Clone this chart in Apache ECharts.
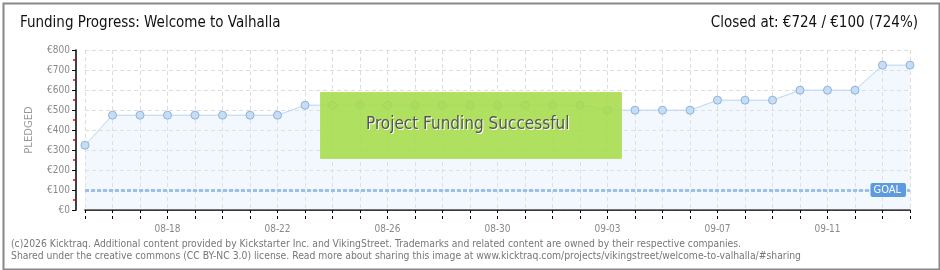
<!DOCTYPE html>
<html><head><meta charset="utf-8">
<script src="https://cdn.jsdelivr.net/npm/echarts@6/dist/echarts.min.js"></script>
<style>html,body{margin:0;padding:0;background:#fff}#c{width:940px;height:270px}</style>
</head><body><div id="c"></div>
<script>
var categories = ['08-15','08-16','08-17','08-18','08-19','08-20','08-21','08-22','08-23','08-24','08-25','08-26','08-27','08-28','08-29','08-30','08-31','09-01','09-02','09-03','09-04','09-05','09-06','09-07','09-08','09-09','09-10','09-11','09-12','09-13','09-14'];
var pledged = [324,474,474,474,474,474,474,474,524,524,524,524,524,524,524,524,524,524,524,499,499,499,499,549,549,549,599,599,599,724,724];
var goal = 100;
var yTicks = [0,100,200,300,400,500,600,700,800];
var titleText = 'Funding Progress: Welcome to Valhalla';
var closedText = 'Closed at: €724 / €100 (724%)';
var bannerText = 'Project Funding Successful';
var footer1 = '(c)2026 Kicktraq. Additional content provided by Kickstarter Inc. and VikingStreet. Trademarks and related content are owned by their respective companies.';
var footer2 = 'Shared under the creative commons (CC BY-NC 3.0) license. Read more about sharing this image at www.kicktraq.com/projects/vikingstreet/welcome-to-valhalla/#sharing';

var chart = echarts.init(document.getElementById('c'), null, {renderer:'canvas'});
var tf = '"DejaVu Sans Condensed","DejaVu Sans",sans-serif';
var labelInterval = function(i){ return i % 4 === 3; };
chart.setOption({
  animation:false,
  backgroundColor:'#fff',
  grid:{left:85,right:30,top:50,bottom:60},
  xAxis:[{
    type:'category', data:categories, boundaryGap:false, offset:9,
    axisLine:{lineStyle:{color:'#000',width:1.5}},
    axisTick:{show:true,interval:0,length:3,lineStyle:{color:'#000',width:1}},
    axisLabel:{interval:labelInterval,color:'#888',fontSize:10,fontFamily:tf,margin:5},
    splitLine:{show:true,interval:0,lineStyle:{color:'#ddd',type:[4,3]}}
  },{
    type:'category', data:categories, boundaryGap:false, offset:9, position:'bottom',
    axisLine:{show:false},
    axisTick:{show:true,inside:true,interval:0,length:3,lineStyle:{color:'#000',width:1}},
    axisLabel:{show:false}, splitLine:{show:false}
  }],
  yAxis:{
    type:'value', min:yTicks[0], max:yTicks[yTicks.length-1], interval:100, offset:9,
    name:'PLEDGED', nameLocation:'middle', nameGap:42, nameRotate:90,
    nameTextStyle:{color:'#999',fontSize:10,fontFamily:'"DejaVu Sans",sans-serif'},
    axisLine:{show:true,lineStyle:{color:'#000',width:1.5}},
    axisTick:{show:true,length:4,lineStyle:{color:'#000'}},
    minorTick:{show:true,splitNumber:2,length:3,lineStyle:{color:'#e00',width:1.5}},
    axisLabel:{color:'#888',fontSize:10,fontFamily:tf,margin:6,formatter:function(v){return '€'+v;}},
    splitLine:{show:true,lineStyle:{color:'#ddd',type:[4,3]}}
  },
  series:[{
    type:'line', data:pledged, symbol:'circle', symbolSize:8,
    lineStyle:{color:'#b9d5f2',width:1},
    itemStyle:{color:'#c6ddf6',borderColor:'#8fb2da',borderWidth:1},
    areaStyle:{color:'rgba(215,232,250,0.45)'},
    markLine:{
      silent:true, symbol:['none','none'],
      lineStyle:{color:'#9fc0e6',width:3,type:[4,2]},
      label:{show:true,position:'insideEnd',formatter:'GOAL',color:'#fff',backgroundColor:'#5b9bde',
        fontSize:11,fontFamily:tf,padding:[2,5,1,3],borderRadius:2,distance:[4,-7]},
      data:[{yAxis:goal}]
    }
  }],
  graphic:[
    {type:'rect',left:1,top:1,z:200,shape:{width:936,height:266},style:{fill:'none',stroke:'#888',lineWidth:2}},
    {type:'text',left:20,top:16,z:200,style:{text:titleText,fill:'#111',font:'15px '+tf}},
    {type:'text',right:22,top:16,z:200,style:{text:closedText,fill:'#111',font:'15px '+tf,textAlign:'right'}},
    {type:'rect',left:320,top:92,z:150,shape:{width:301,height:66},style:{fill:'rgba(166,220,74,0.88)',stroke:'#b6e06a',lineWidth:1}},
    {type:'text',left:367,top:117,z:151,style:{text:bannerText,fill:'#fff',font:'17px '+tf}},
    {type:'text',left:366,top:116,z:152,style:{text:bannerText,fill:'#555',font:'17px '+tf}},
    {type:'text',left:11,top:239,z:200,style:{text:footer1,fill:'#777',font:'10.3px '+tf}},
    {type:'text',left:11,top:251,z:200,style:{text:footer2,fill:'#777',font:'10.3px '+tf}}
  ]
});
</script></body></html>
